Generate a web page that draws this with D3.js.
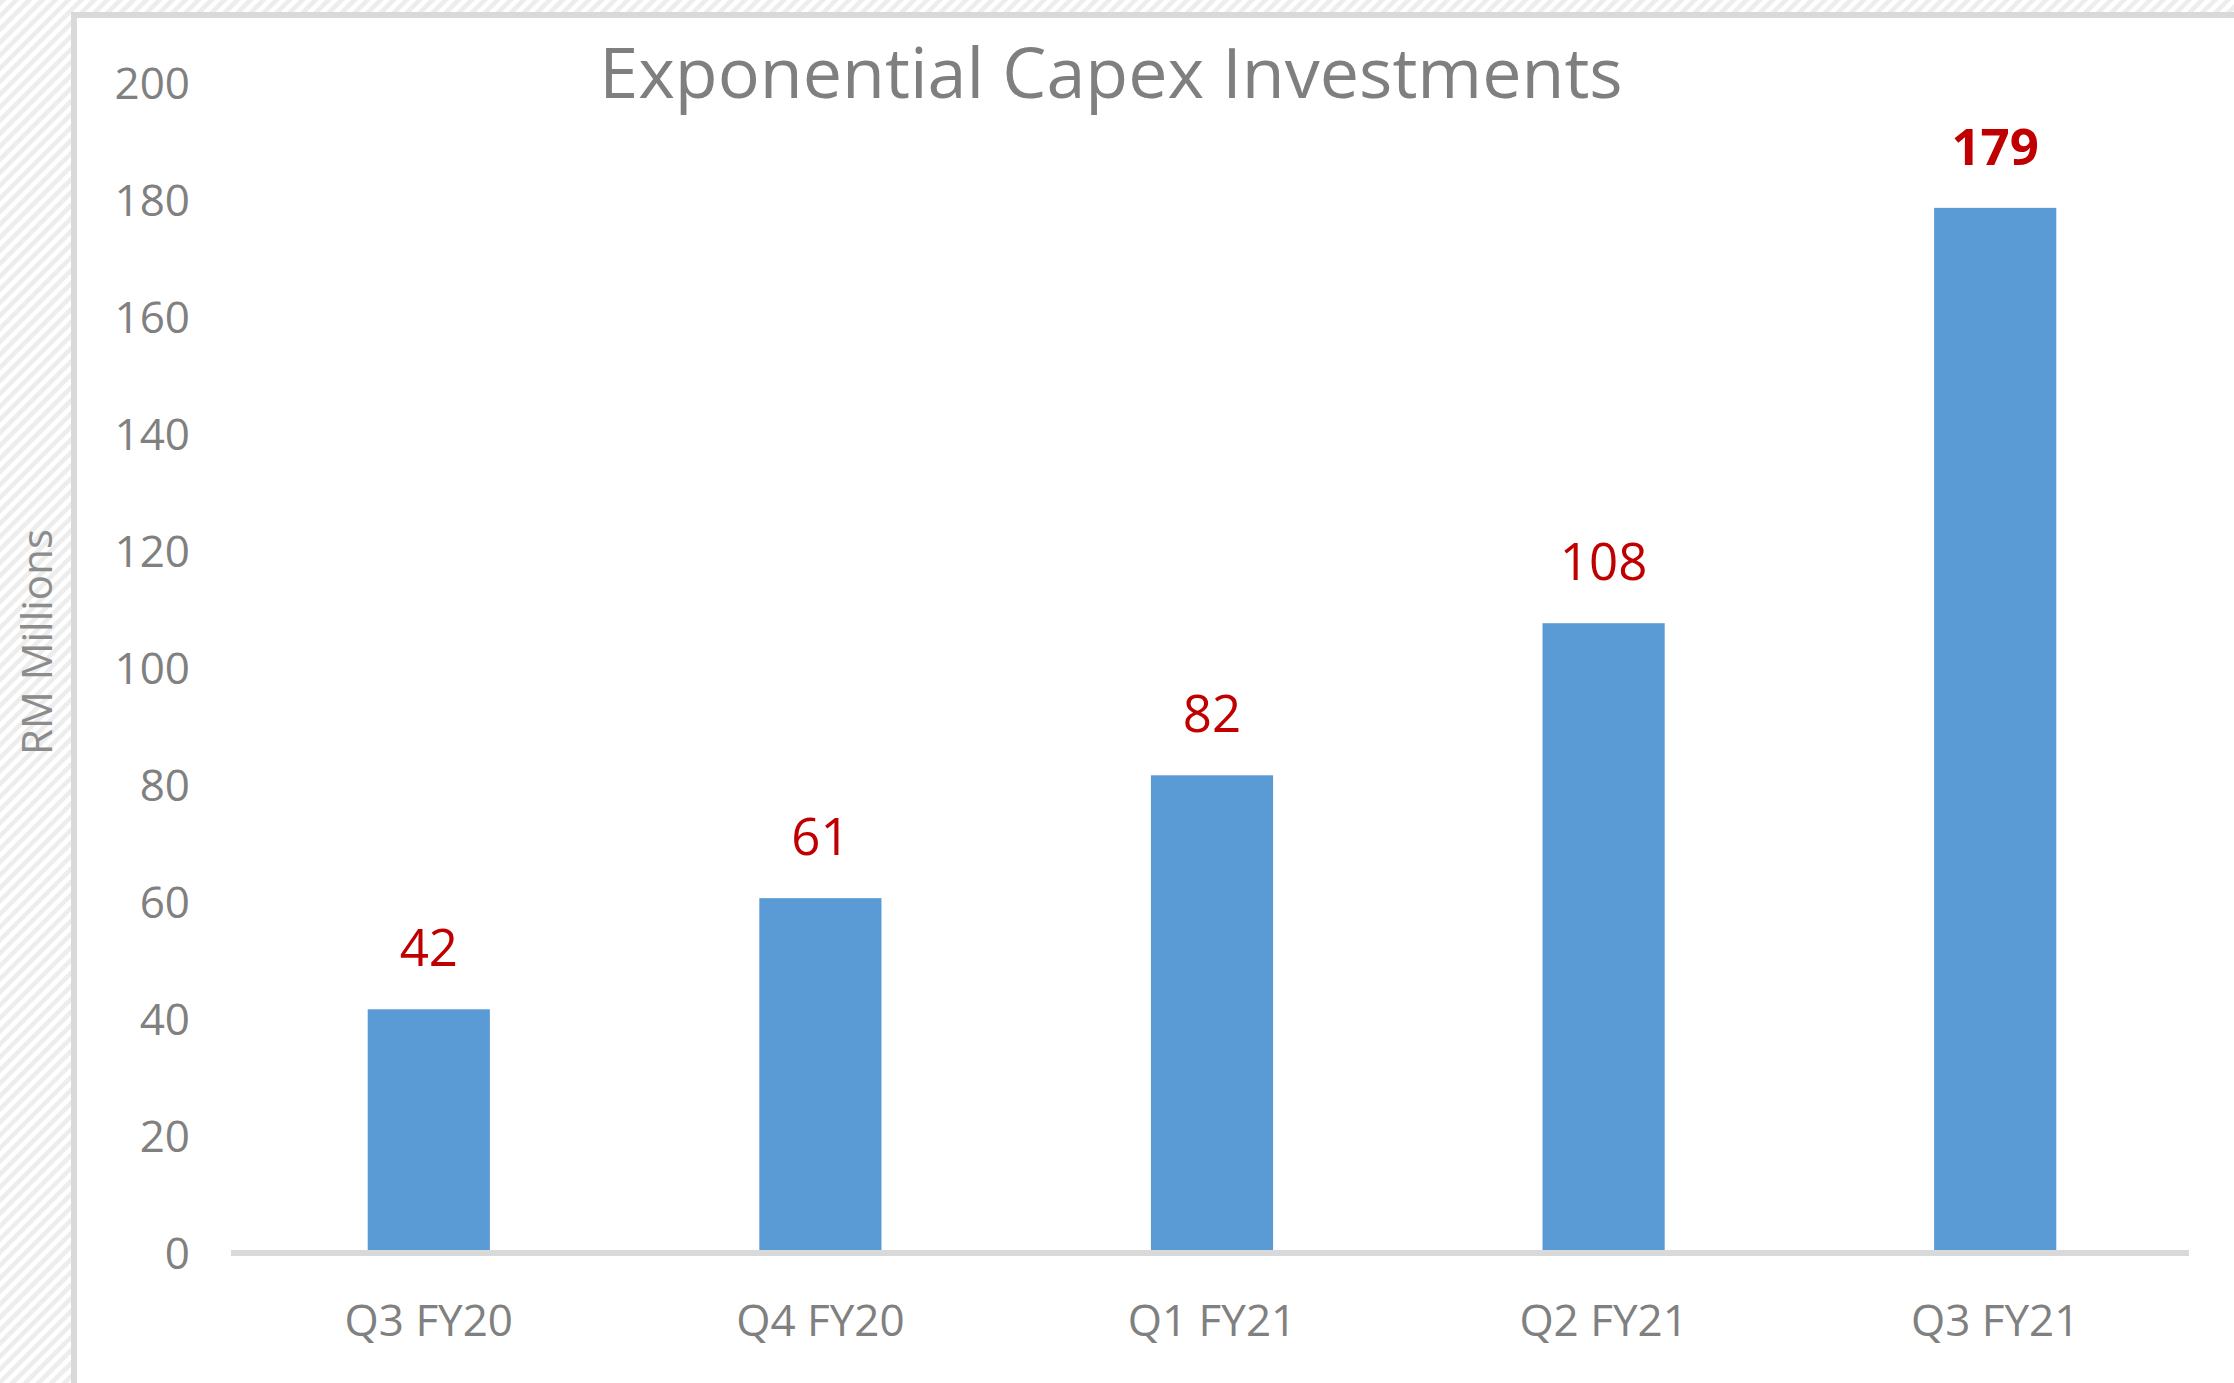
<!DOCTYPE html>
<html lang="en">
<head>
    <meta charset="UTF-8">
    <title>Exponential Capex Investments</title>
    <script src="https://d3js.org/d3.v7.min.js"></script>
    <style>
        body {
            margin: 0;
            background: #fff;
        }
        svg text {
            font-family: "Open Sans", "Noto Sans", sans-serif;
        }
    </style>
</head>
<body>
    <svg id="chart"></svg>
    <script>
        // data
        const quarters = ["Q3 FY20", "Q4 FY20", "Q1 FY21", "Q2 FY21", "Q3 FY21"];
        const capex = [42, 61, 82, 108, 179];
        const yTicks = [0, 20, 40, 60, 80, 100, 120, 140, 160, 180, 200];

        const width = 2234;
        const height = 1383;

        const svg = d3.select("#chart")
                      .attr("width", width)
                      .attr("height", height);

        // hatched background round the chart area
        const defs = svg.append("defs");
        const pat = defs.append("pattern")
                        .attr("id", "hatch")
                        .attr("patternUnits", "userSpaceOnUse")
                        .attr("width", 9.2)
                        .attr("height", 9.2)
                        .attr("patternTransform", "rotate(45)");
        pat.append("rect")
           .attr("width", 9.2).attr("height", 9.2).attr("fill", "#fff");
        pat.append("rect")
           .attr("width", 4.6).attr("height", 9.2).attr("fill", "#ededed");

        svg.append("rect")
           .attr("width", width)
           .attr("height", height)
           .attr("fill", "url(#hatch)");

        svg.append("rect")
           .attr("x", 74)
           .attr("y", 15)
           .attr("width", 3000)
           .attr("height", 3000)
           .attr("fill", "#fff")
           .attr("stroke", "#d9d9d9")
           .attr("stroke-width", 6);

        const x = d3.scaleBand()
                    .domain(quarters)
                    .range([233, 2191])
                    .paddingInner(0.688)
                    .paddingOuter(0.344);

        const y = d3.scaleLinear()
                    .domain([0, 200])
                    .range([1255, 85]);

        // y axis labels only
        const yAxis = svg.append("g")
                         .attr("transform", "translate(231,0)")
                         .call(d3.axisLeft(y).tickValues(yTicks).tickSize(0).tickPadding(41));
        yAxis.select(".domain").remove();
        yAxis.selectAll("text")
             .attr("font-size", 44)
             .attr("fill", "#808080")
             .attr("dy", "0.3em");

        // bars
        svg.selectAll(".bar")
           .data(capex)
           .enter()
           .append("rect")
           .attr("class", "bar")
           .attr("x", (d, i) => x(quarters[i]))
           .attr("y", d => y(d))
           .attr("width", x.bandwidth())
           .attr("height", d => y(0) - y(d))
           .attr("fill", "#5b9bd5");

        // baseline
        svg.append("line")
           .attr("x1", 231)
           .attr("x2", 2189)
           .attr("y1", y(0) - 2)
           .attr("y2", y(0) - 2)
           .attr("stroke", "#d9d9d9")
           .attr("stroke-width", 6);

        // x axis labels
        const xAxis = svg.append("g")
                         .attr("transform", `translate(0,${y(0) - 2})`)
                         .call(d3.axisBottom(x).tickSize(0).tickPadding(52));
        xAxis.select(".domain").remove();
        xAxis.selectAll("text")
             .attr("font-size", 44)
             .attr("fill", "#808080")
             .attr("dy", "0.71em");

        // value labels
        svg.selectAll(".val")
           .data(capex)
           .enter()
           .append("text")
           .attr("class", "val")
           .attr("x", (d, i) => x(quarters[i]) + x.bandwidth() / 2)
           .attr("y", d => y(d) - 43)
           .attr("text-anchor", "middle")
           .attr("font-size", 51)
           .attr("font-weight", (d, i) => i === capex.length - 1 ? "bold" : "normal")
           .attr("fill", "#c00000")
           .text(d => d);

        // title
        svg.append("text")
           .attr("x", 1111)
           .attr("y", 98)
           .attr("text-anchor", "middle")
           .attr("font-size", 70)
           .attr("fill", "#7f7f7f")
           .text("Exponential Capex Investments");

        // y axis title
        svg.append("text")
           .attr("transform", "translate(52,642) rotate(-90)")
           .attr("text-anchor", "middle")
           .attr("font-size", 42)
           .attr("fill", "#8c8c8c")
           .text("RM Millions");
    </script>
</body>
</html>
